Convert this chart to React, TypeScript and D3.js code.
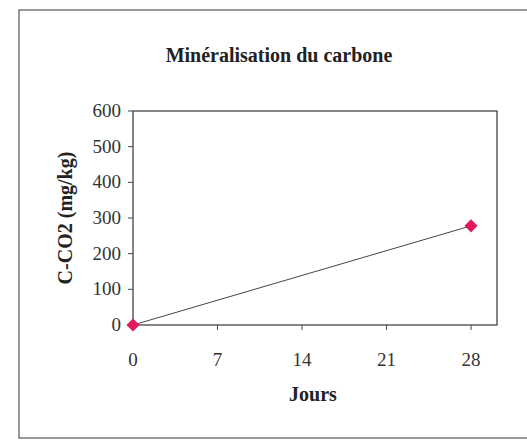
import React from "react";
import * as d3 from "d3";

const days = [0, 28];
const carbon = [0, 278];
const xTicks = [0, 7, 14, 21, 28];
const yTicks = [0, 100, 200, 300, 400, 500, 600];

const title = "Minéralisation du carbone";
const xLabel = "Jours";
const yLabel = "C-CO2 (mg/kg)";

const W = 527;
const H = 441;
const plot = { left: 133, right: 497, top: 111, bottom: 325 };

const App: React.FC = () => {
  const x = d3.scaleLinear().domain([0, 30.15]).range([plot.left, plot.right]);
  const y = d3.scaleLinear().domain([0, 600]).range([plot.bottom, plot.top]);

  const pts = days.map((d, i) => ({ d, v: carbon[i] }));
  const line = d3
    .line<{ d: number; v: number }>()
    .x((p) => x(p.d))
    .y((p) => y(p.v));
  const diamond = d3.symbol().type(d3.symbolDiamond2).size(110)();

  const font = "'Liberation Serif', 'Times New Roman', serif";

  return (
    <svg
      width={W}
      height={H}
      style={{ position: "absolute", left: 0, top: 0, background: "#fff" }}
      fontFamily={font}
    >
      {/* cadre du graphique */}
      <rect x={19} y={10} width={520} height={428} fill="#fff" stroke="#555" strokeWidth={1.2} />

      <text x={279} y={62} textAnchor="middle" fontSize={20} fontWeight="bold" fill="#222">
        {title}
      </text>

      {/* zone de tracé */}
      <rect
        x={plot.left}
        y={plot.top}
        width={plot.right - plot.left}
        height={plot.bottom - plot.top}
        fill="#fff"
        stroke="#444"
        strokeWidth={1.3}
      />

      {/* axe Y */}
      {yTicks.map((t) => (
        <g key={t}>
          <line x1={plot.left - 5} x2={plot.left} y1={y(t)} y2={y(t)} stroke="#444" />
          <text x={plot.left - 12} y={y(t)} dy={6} textAnchor="end" fontSize={19} fill="#333">
            {t}
          </text>
        </g>
      ))}

      {/* axe X */}
      {xTicks.map((t) => (
        <g key={t}>
          <line x1={x(t)} x2={x(t)} y1={plot.bottom} y2={plot.bottom + 5} stroke="#444" />
          <text x={x(t)} y={366} textAnchor="middle" fontSize={19} fill="#333">
            {t}
          </text>
        </g>
      ))}

      <text x={313} y={401} textAnchor="middle" fontSize={20} fontWeight="bold" fill="#222">
        {xLabel}
      </text>
      <text
        transform={`translate(72, 218) rotate(-90)`}
        textAnchor="middle"
        fontSize={20}
        fontWeight="bold"
        fill="#222"
      >
        {yLabel}
      </text>

      {/* série */}
      <path d={line(pts) || ""} fill="none" stroke="#3a4a48" strokeWidth={1} />
      {pts.map((p, i) => (
        <path
          key={i}
          d={diamond || ""}
          transform={`translate(${x(p.d)}, ${y(p.v)})`}
          fill="#e01a5c"
        />
      ))}
    </svg>
  );
};

export default App;
